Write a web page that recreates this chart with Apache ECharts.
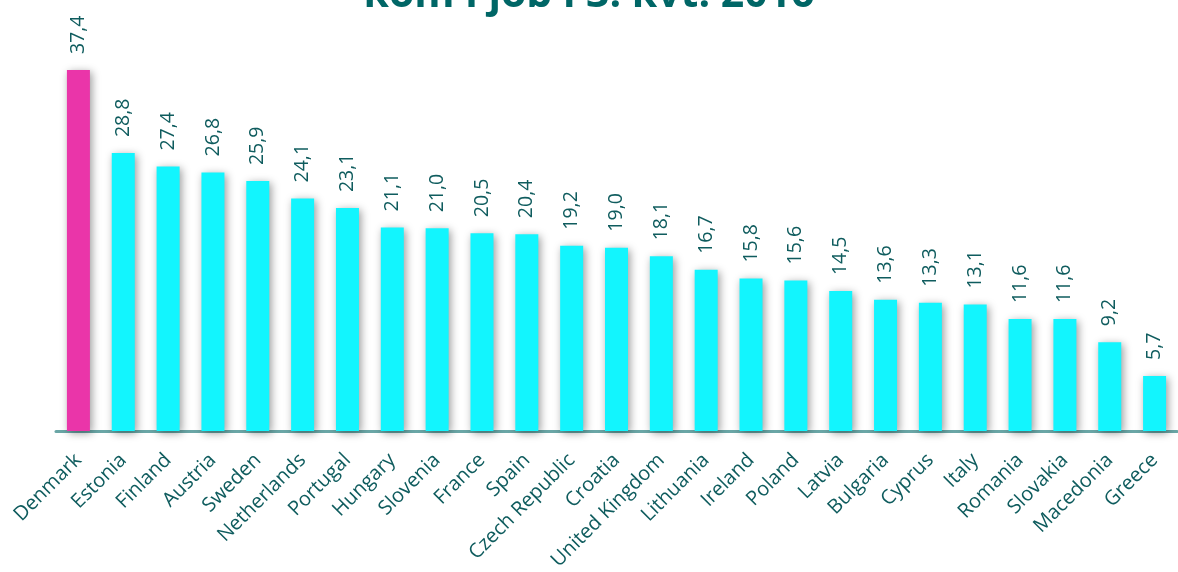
<!DOCTYPE html>
<html>
<head>
<meta charset="utf-8">
<script src="https://cdn.jsdelivr.net/npm/echarts@6/dist/echarts.min.js"></script>
<style>
html,body{margin:0;padding:0;background:#fff;}
#chart{width:1178px;height:572px;}
</style>
</head>
<body>
<div id="chart"></div>
<script>
const titleText = 'kom i job i 3. kvt. 2016';
const countries = ['Denmark','Estonia','Finland','Austria','Sweden','Netherlands','Portugal','Hungary','Slovenia','France','Spain','Czech Republic','Croatia','United Kingdom','Lithuania','Ireland','Poland','Latvia','Bulgaria','Cyprus','Italy','Romania','Slovakia','Macedonia','Greece'];
const values = [37.4,28.8,27.4,26.8,25.9,24.1,23.1,21.1,21.0,20.5,20.4,19.2,19.0,18.1,16.7,15.8,15.6,14.5,13.6,13.3,13.1,11.6,11.6,9.2,5.7];
const highlightCountry = 'Denmark';

const chart = echarts.init(document.getElementById('chart'));
const data = values.map((v, i) => ({
  value: v,
  itemStyle: { color: countries[i] === highlightCountry ? '#EA35A9' : '#12F5FE' }
}));
chart.setOption({
  animation: false,
  graphic: [{
    type: 'text',
    left: 'center',
    top: -25,
    style: {
      text: titleText,
      font: 'bold 41px "Open Sans"',
      fill: '#006666',
      shadowColor: 'rgba(0,0,0,0.45)',
      shadowBlur: 3,
      shadowOffsetX: 2,
      shadowOffsetY: 2
    }
  }],
  grid: { left: 56, right: 1, top: 45, bottom: 141, containLabel: false, outerBoundsMode: 'none' },
  xAxis: {
    type: 'category',
    data: countries,
    axisLine: { lineStyle: { color: '#6aa6a6', width: 3 } },
    axisTick: { show: false },
    axisLabel: {
      rotate: 45,
      interval: 0,
      margin: 26,
      color: '#0f5c5e',
      fontSize: 20,
      fontFamily: 'Open Sans'
    }
  },
  yAxis: {
    type: 'value',
    min: 0,
    max: 40,
    show: false,
    splitLine: { show: false }
  },
  series: [{
    type: 'bar',
    data: data,
    barWidth: 23,
    itemStyle: {
      shadowColor: 'rgba(0,0,0,0.4)',
      shadowBlur: 8,
      shadowOffsetX: 2,
      shadowOffsetY: 2
    },
    label: {
      show: true,
      position: 'top',
      rotate: 90,
      align: 'left',
      verticalAlign: 'middle',
      distance: 16,
      color: '#0f5c5e',
      fontSize: 19.5,
      fontFamily: 'Open Sans',
      formatter: p => p.value.toFixed(1).replace('.', ',')
    }
  }]
});
</script>
</body>
</html>
